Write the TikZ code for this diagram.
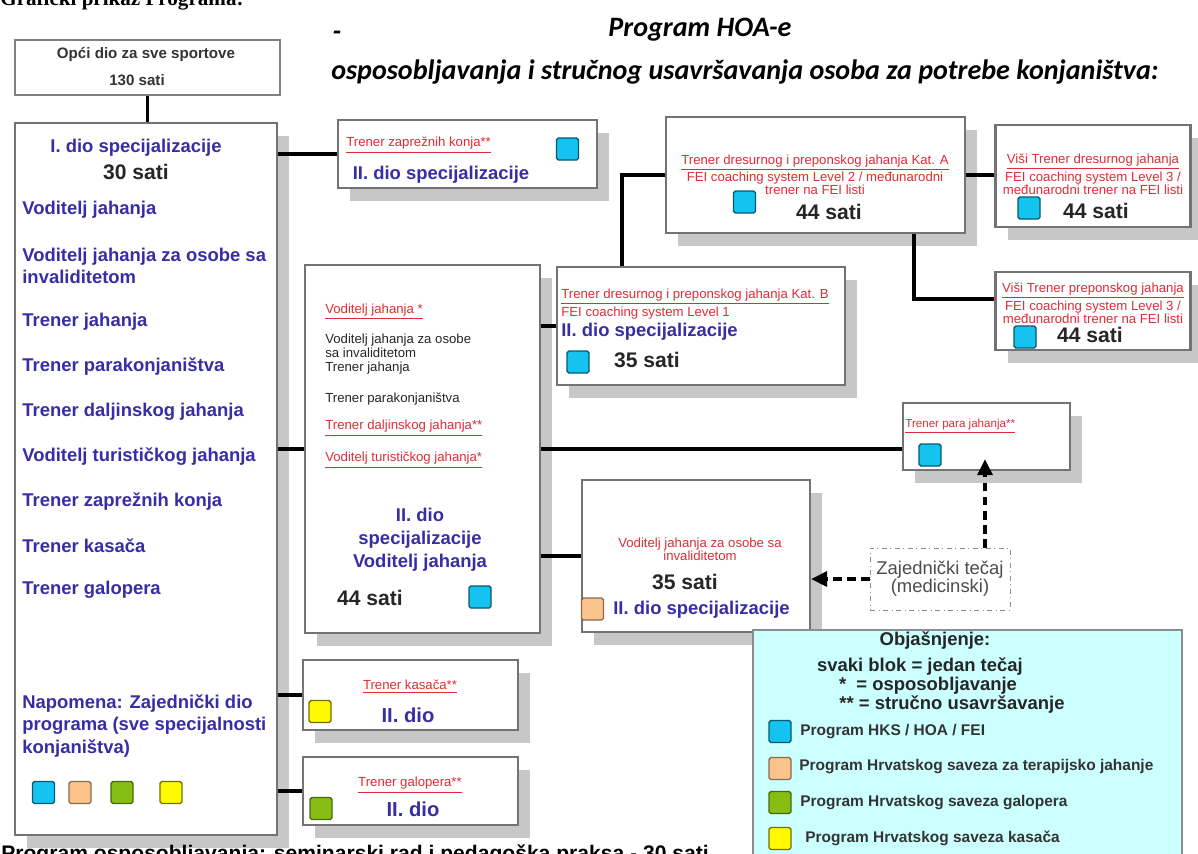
\documentclass[tikz,border=0pt]{standalone}
\usepackage{fontspec}
\setmainfont{Liberation Sans}
\newfontfamily\titlefont{Carlito}
\newfontfamily\captionfont{Liberation Serif}
\usetikzlibrary{shadows,arrows.meta}
\definecolor{hoaBlue}{RGB}{55,45,165}
\definecolor{hoaRed}{RGB}{222,45,55}
\definecolor{hksCyan}{RGB}{20,195,240}
\definecolor{terPeach}{RGB}{250,195,140}
\definecolor{galGreen}{RGB}{135,190,20}
\definecolor{kasYellow}{RGB}{255,250,0}
\definecolor{legendFill}{RGB}{204,255,255}

\begin{document}
\begin{tikzpicture}[x=0.02cm, y=-0.02cm]
        \tikzstyle{courseBox}=[draw=black!55, line width=1.3pt, fill=white, inner sep=0pt, drop shadow={shadow xshift=0.24cm, shadow yshift=-0.26cm, fill=black!22, opacity=1}]
        \tikzstyle{link}=[line width=1.8pt, black]
        \tikzstyle{medArrow}=[line width=1.8pt, dash pattern=on 5pt off 3pt, -{Triangle[length=0.32cm,width=0.3cm]}]
        \tikzstyle{titleText}=[font=\titlefont\fontsize{16}{19}\selectfont\bfseries\itshape, inner sep=0pt]
        \tikzstyle{greyHead}=[font=\fontsize{8.6}{10}\selectfont\bfseries, text=black!80, inner sep=0pt]
        \tikzstyle{blueHead}=[font=\fontsize{10.5}{13}\selectfont\bfseries, text=hoaBlue, inner sep=0pt, align=center]
        \tikzstyle{blueItem}=[font=\fontsize{10.5}{12.8}\selectfont\bfseries, text=hoaBlue, inner sep=0pt, anchor=west, align=left]
        \tikzstyle{hoursText}=[font=\fontsize{12}{14}\selectfont\bfseries, text=black!85, inner sep=0pt]
        \tikzstyle{redNote}=[font=\fontsize{7.5}{7.4}\selectfont, text=hoaRed, inner sep=0pt, align=center]
        \tikzstyle{blackNote}=[font=\fontsize{7.5}{8}\selectfont, text=black!85, inner sep=0pt, anchor=west, align=left]
        \tikzstyle{legendHead}=[font=\fontsize{10.5}{12}\selectfont\bfseries, text=black!85, inner sep=0pt]
        \tikzstyle{legendText}=[font=\fontsize{8.8}{10}\selectfont\bfseries, text=black!80, inner sep=0pt, anchor=west]
        \tikzstyle{colorSquare}=[line width=0.8pt, rounded corners=1pt, minimum size=0.44cm, inner sep=0pt]
        \tikzstyle{hksSquare}=[colorSquare, fill=hksCyan, draw=hksCyan!45!black]
        \tikzstyle{terSquare}=[colorSquare, fill=terPeach, draw=terPeach!55!black]
        \tikzstyle{galSquare}=[colorSquare, fill=galGreen, draw=galGreen!55!black]
        \tikzstyle{kasSquare}=[colorSquare, fill=kasYellow, draw=kasYellow!45!black]
    \useasboundingbox (0,0) rectangle (1198,853);
    \clip (0,0) rectangle (1198,853);

    % heading
    \node[font=\captionfont\fontsize{12}{14}\selectfont\bfseries, anchor=base west, inner sep=0pt] (figCaption) at (0,5) {Grafički prikaz Programa:};
    \node[titleText] (titleMain) at (700,30) {Program HOA-e};
    \node[titleText] (titleDash) at (337,36) {-};
    \node[titleText, anchor=west] (titleSub) at (331,72) {osposobljavanja i stručnog usavršavanja osoba za potrebe konjaništva:};

    % common part for all sports
    \node[draw=black!50, line width=1pt, fill=white, minimum width=5.3cm, minimum height=1.1cm] (opci) at (147.5,67.5) {};
    \node[greyHead] (opciText) at (146,55) {Opći dio za sve sportove};
    \node[greyHead] (opciHours) at (137,80) {130 sati};

    % first part of the specialisation
    \node[courseBox, minimum width=5.24cm, minimum height=14.24cm] (specI) at (146,479) {};
    \node[blueHead] (specITitle) at (136,148) {I. dio specijalizacije};
    \node[hoursText] (specIHours) at (136,172) {30 sati};
    \node[blueItem] (item1) at (22,210) {Voditelj jahanja};
    \node[blueItem] (item2) at (22,266) {Voditelj jahanja za osobe sa\\invaliditetom};
    \node[blueItem] (item3) at (22,322) {Trener jahanja};
    \node[blueItem] (item4) at (22,367) {Trener parakonjaništva};
    \node[blueItem] (item5) at (22,412) {Trener daljinskog jahanja};
    \node[blueItem] (item6) at (22,457) {Voditelj turističkog jahanja};
    \node[blueItem] (item7) at (22,502) {Trener zaprežnih konja};
    \node[blueItem] (item8) at (22,546) {Trener kasača};
    \node[blueItem] (item9) at (22,590) {Trener galopera};
    \node[blueItem] (napomena) at (22,726) {Napomena: Zajednički dio\\programa (sve specijalnosti\\konjaništva)};
    \node[hksSquare] (specISq1) at (43.5,792.5) {};
    \node[terSquare] (specISq2) at (80,792.5) {};
    \node[galSquare] (specISq3) at (122,792.5) {};
    \node[kasSquare] (specISq4) at (171,792.5) {};

    % second parts
    \node[courseBox, minimum width=5.18cm, minimum height=1.36cm] (zapBox) at (467.5,154) {};
    \node[redNote, anchor=west] (zapTitle) at (346,145) {\underline{Trener zaprežnih konja**}};
    \node[hksSquare] (zapSq) at (567.5,149) {};
    \node[blueHead] (zapPart) at (441,175) {II. dio specijalizacije};

    \node[courseBox, minimum width=5.98cm, minimum height=2.32cm] (katA) at (815.5,175) {};
    \node[redNote] (katATitle) at (815,175) {\underline{Trener dresurnog i preponskog jahanja Kat. A}\\FEI coaching system Level 2 / međunarodni\\trener na FEI listi};
    \node[hksSquare] (katASq) at (744.5,202) {};
    \node[hoursText] (katAHours) at (829,212) {44 sati};

    \node[courseBox, minimum width=3.9cm, minimum height=2.04cm] (visiDres) at (1093,176) {};
    \node[redNote] (visiDresTitle) at (1093,174) {\underline{Viši Trener dresurnog jahanja}\\FEI coaching system Level 3 /\\međunarodni trener na FEI listi};
    \node[hksSquare] (visiDresSq) at (1029,208) {};
    \node[hoursText] (visiDresHours) at (1096,211) {44 sati};

    \node[courseBox, minimum width=3.9cm, minimum height=1.56cm] (visiPrep) at (1093,311) {};
    \node[redNote] (visiPrepTitle) at (1093,303) {\underline{Viši Trener preponskog jahanja}\\FEI coaching system Level 3 /\\međunarodni trener na FEI listi};
    \node[hksSquare] (visiPrepSq) at (1025,337) {};
    \node[hoursText] (visiPrepHours) at (1090,335) {44 sati};

    \node[courseBox, minimum width=4.7cm, minimum height=7.36cm] (voditelj) at (422.5,449) {};
    \node[redNote, anchor=west] (vodRed1) at (325,312) {\underline{Voditelj jahanja *}};
    \node[blackNote] (vodBlack1) at (325,354) {Voditelj jahanja za osobe\\sa invaliditetom\\Trener jahanja};
    \node[blackNote] (vodBlack2) at (325,399) {Trener parakonjaništva};
    \node[redNote, anchor=west] (vodRed2) at (325,428) {\underline{Trener daljinskog jahanja**}};
    \node[redNote, anchor=west] (vodRed3) at (325,460) {\underline{Voditelj turističkog jahanja*}};
    \node[blueHead] (vodPart) at (420,540) {II. dio\\specijalizacije\\Voditelj jahanja};
    \node[hoursText] (vodHours) at (370,598) {44 sati};
    \node[hksSquare] (vodSq) at (480,597) {};

    \node[courseBox, minimum width=5.76cm, minimum height=2.36cm] (katB) at (701,326) {};
    \node[redNote, anchor=west, align=left] (katBTitle) at (561,304) {\underline{Trener dresurnog i preponskog jahanja Kat. B}\\FEI coaching system Level 1};
    \node[blueHead, anchor=west] (katBPart) at (561,332) {II. dio specijalizacije};
    \node[hksSquare] (katBSq) at (578,362) {};
    \node[hoursText] (katBHours) at (647,360) {35 sati};

    \node[courseBox, minimum width=3.34cm, minimum height=1.34cm] (paraBox) at (986.5,436.5) {};
    \node[redNote, font=\fontsize{6.6}{7.4}\selectfont, anchor=west] (paraTitle) at (905,426) {\underline{Trener para jahanja**}};
    \node[hksSquare] (paraSq) at (930,455) {};

    \node[courseBox, minimum width=4.56cm, minimum height=3.04cm] (osobeBox) at (696,556) {};
    \node[redNote] (osobeTitle) at (700,549) {Voditelj jahanja za osobe sa\\invaliditetom};
    \node[hoursText] (osobeHours) at (685,582) {35 sati};
    \node[terSquare] (osobeSq) at (592.5,609) {};
    \node[blueHead, anchor=west] (osobePart) at (613,610) {II. dio specijalizacije};

    \node[draw=black!45, dash dot, thin, fill=white, minimum width=2.8cm, minimum height=1.24cm, font=\fontsize{10.5}{10.4}\selectfont, text=black!70, align=center] (zajTecaj) at (940,579) {Zajednički tečaj\\(medicinski)};

    \node[courseBox, minimum width=4.3cm, minimum height=1.4cm] (kasBox) at (410.5,695) {};
    \node[redNote] (kasTitle) at (410,687) {\underline{Trener kasača**}};
    \node[kasSquare] (kasSq) at (320,711.5) {};
    \node[blueHead, font=\fontsize{11.5}{13}\selectfont\bfseries] (kasPart) at (408,715) {II. dio};

    \node[courseBox, minimum width=4.3cm, minimum height=1.36cm] (galBox) at (410.5,791) {};
    \node[redNote] (galTitle) at (410,785) {\underline{Trener galopera**}};
    \node[galSquare] (galSq) at (321,808.5) {};
    \node[blueHead, font=\fontsize{11.5}{13}\selectfont\bfseries] (galPart) at (413,809) {II. dio};

    % legend
    \node[draw=black!45, fill=legendFill, line width=0.8pt, minimum width=8.58cm, minimum height=4.8cm] (legend) at (967.5,750) {};
    \node[legendHead] (legTitle) at (935,641) {Objašnjenje:};
    \node[legendHead] (legLine1) at (920,667) {svaki blok = jedan tečaj};
    \node[legendHead] (legLine2) at (928,686) {*\ \ = osposobljavanje};
    \node[legendHead] (legLine3) at (952,705) {** = stručno usavršavanje};
    \node[hksSquare] (legSq1) at (780,731.5) {};
    \node[terSquare] (legSq2) at (780,768.5) {};
    \node[galSquare] (legSq3) at (780,802.5) {};
    \node[kasSquare] (legSq4) at (780,838.5) {};
    \node[legendText] (legText1) at (800,732) {Program HKS / HOA / FEI};
    \node[legendText] (legText2) at (799,767) {Program Hrvatskog saveza za terapijsko jahanje};
    \node[legendText] (legText3) at (800,803) {Program Hrvatskog saveza galopera};
    \node[legendText] (legText4) at (805,838) {Program Hrvatskog saveza kasača};

    \node[font=\fontsize{12}{14}\selectfont\bfseries, anchor=north west, inner sep=0pt] (footNote) at (1,844) {Program osposobljavanja: seminarski rad i pedagoška praksa - 30 sati};

    % connectors
    \draw[link] (opci.south) -- (opci.south |- specI.north);
    \draw[link] (specI.east |- zapBox.west) -- (zapBox.west);
    \draw[link] (specI.east |- voditelj.west) -- (voditelj.west);
    \draw[link] (specI.east |- kasBox.west) -- (kasBox.west);
    \draw[link] (specI.east |- galBox.west) -- (galBox.west);
    \draw[link] (voditelj.east |- katB.west) -- (katB.west);
    \draw[link] (voditelj.east) -- (voditelj.east -| paraBox.west);
    \draw[link] (voditelj.east |- osobeBox.west) -- (osobeBox.west);
    \draw[link] (katA.west) -| (katB.north -| 622,0);
    \draw[link] (katA.east) -- (katA.east -| visiDres.west);
    \draw[link] (katA.south -| 914,0) |- (visiPrep.west |- 0,299);

    \draw[medArrow] (zajTecaj.west) -- (zajTecaj.west -| osobeBox.east);
    \draw[medArrow, shorten >=-0.24cm] (zajTecaj.north -| 985,0) -- (paraBox.south -| 985,0);
    \end{tikzpicture}
\end{document}
